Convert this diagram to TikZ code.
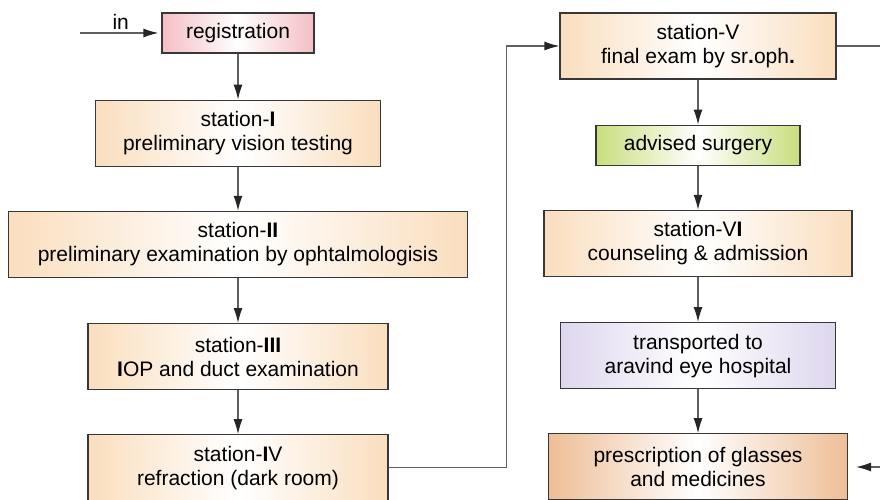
\documentclass[tikz,border=0pt]{standalone}
\usepackage{fontspec}
\setmainfont{Liberation Sans}
\usetikzlibrary{arrows.meta, positioning}

\definecolor{peach}{RGB}{250,222,190}
\definecolor{rose}{RGB}{245,190,196}
\definecolor{leaf}{RGB}{200,222,125}
\definecolor{lilac}{RGB}{222,214,238}
\definecolor{apricot}{RGB}{238,190,150}
\definecolor{edge}{RGB}{55,55,55}
\definecolor{wire}{RGB}{95,95,95}

\begin{document}
\begin{tikzpicture}[x=1pt, y=1pt,
  box/.style={draw=edge, line width=1.2pt, align=center, inner sep=2pt,
              minimum height=66pt, font=\fontsize{21}{24}\selectfont,
              left color=#1, right color=#1, middle color=white},
  box/.default=peach,
  one/.style={box=#1, minimum height=40pt},
  fl/.style={draw=wire, line width=1.2pt,
             -{Latex[length=15pt, width=9pt, fill=black!85, color=black!85]}},
  t/.style={font=\fontsize{21}{24}\selectfont, inner sep=3pt}
]
\clip (0,0) rectangle (880,-499);

% left column
\node[one=rose, minimum width=152pt] (reg) at (238,-33) {registration};
\node[box, minimum width=285pt, below=46pt of reg] (s1) {station-\textbf{I}\\preliminary vision testing};
\node[box, minimum width=459pt, below=44pt of s1] (s2) {station-\textbf{II}\\preliminary examination by ophtalmologisis};
\node[box, minimum width=300pt, below=45pt of s2] (s3) {station-\textbf{III}\\\textbf{I}OP and duct examination};
\node[box, minimum width=300pt, below=44pt of s3] (s4) {station-\textbf{I}V\\refraction (dark room)};

% right column
\node[box, minimum width=276pt] (s5) at (698,-46) {station-V\\final exam by sr\textbf{.}oph\textbf{.}};
\node[one=leaf, minimum width=204pt, below=45pt of s5] (surg) {advised surgery};
\node[box, minimum width=308pt, below=44pt of surg] (s6) {station-V\textbf{I}\\counseling \& admission};
\node[box=lilac, minimum width=275pt, below=45pt of s6] (trans) {transported to\\aravind eye hospital};
\node[box=apricot, minimum width=299pt, below=44pt of trans] (presc) {prescription of glasses\\and medicines};

% loose ends
\coordinate (entry) at (80,-33);
\coordinate (exit) at (885,-46);
\coordinate (back) at (885,-467);

\draw[fl, shorten >=3pt] (entry) -- node[t, above] {in} (reg);
\draw[fl] (reg) -- (s1);
\draw[fl] (s1) -- (s2);
\draw[fl] (s2) -- (s3);
\draw[fl] (s3) -- (s4);
\draw[fl] (s4.east) -- ++(118,0) |- (s5.west);
\draw[draw=wire, line width=1.2pt] (s5.east) -- (exit);
\draw[fl] (s5) -- (surg);
\draw[fl] (surg) -- (s6);
\draw[fl] (s6) -- (trans);
\draw[fl] (trans) -- (presc);
\draw[fl, shorten >=8pt] (back) -- (back -| presc.east);
\end{tikzpicture}
\end{document}
